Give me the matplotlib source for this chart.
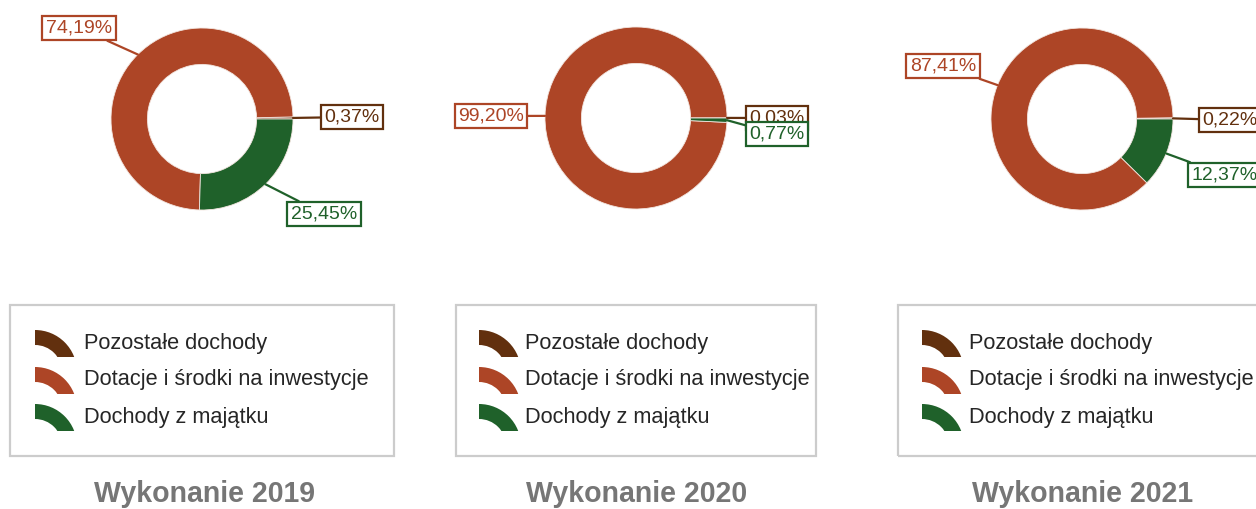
import matplotlib
matplotlib.use("Agg")
import matplotlib.pyplot as plt
from matplotlib.patches import Rectangle, Wedge
import numpy as np

# ---------------- data ----------------
categories = ['Pozostałe dochody', 'Dotacje i środki na inwestycje', 'Dochody z majątku']
years = ['2019', '2020', '2021']
values_2019 = [0.37, 74.19, 25.45]
values_2020 = [0.03, 99.20, 0.77]
values_2021 = [0.22, 87.41, 12.37]
titles = ['Wykonanie 2019', 'Wykonanie 2020', 'Wykonanie 2021']

colors = ['#62300E', '#AD4526', '#1F612A']

W, H = 1256, 509
fig = plt.figure(figsize=(W / 100, H / 100), dpi=100)
ax = fig.add_axes([0, 0, 1, 1])


def Y(y):
    return H - y


# layout (pixel positions, top-left origin)
centers = [(202, 119), (636, 118), (1082, 119)]
radius = 91
label_boxes = [
    [(352, 117), (79, 28), (324, 214)],
    [(777, 118), (491, 116), (777, 134)],
    [(1230, 120), (943, 66), (1225, 175)],
]
legend_boxes = [(10, 305, 384, 151), (456, 305, 360, 151), (898, 305, 380, 151)]
legend_icon_x = [35, 479, 922]
legend_text_x = [84, 525, 969]
legend_text_w = 287
title_x = [204, 637, 1083]
LEG_FONT = 'Liberation Sans'

renderer = fig.canvas.get_renderer()

all_vals = [values_2019, values_2020, values_2021]
for i, vals in enumerate(all_vals):
    cx, cy = centers[i]
    wedges, _ = ax.pie(vals, colors=colors, startangle=0, counterclock=True,
                       radius=radius, center=(cx, Y(cy)),
                       wedgeprops=dict(width=radius * 0.40, edgecolor='#F3E6E0', linewidth=0.6))
    for j in range(3):
        w = wedges[j]
        mid = np.deg2rad((w.theta1 + w.theta2) / 2.0)
        px = cx + radius * np.cos(mid)
        py = Y(cy) + radius * np.sin(mid)
        bx, by = label_boxes[i][j]
        txt = f"{vals[j]:.2f}%".replace('.', ',')
        ax.annotate(txt, xy=(px, py), xytext=(bx, Y(by)), textcoords='data',
                    ha='center', va='center', fontsize=14, color=colors[j],
                    family='Liberation Sans', zorder=5 + j,
                    bbox=dict(boxstyle='square,pad=0.18', fc='white', ec=colors[j], lw=1.6),
                    arrowprops=dict(arrowstyle='-', color=colors[j], lw=1.6,
                                    shrinkA=0, shrinkB=0))

# legends
probe = ax.text(0, 0, categories[1], fontsize=15, family=LEG_FONT)
base_w = probe.get_window_extent(renderer).width
probe.remove()
fs = 15 * legend_text_w / base_w

for i in range(3):
    lx, ly, lw_, lh = legend_boxes[i]
    ax.add_patch(Rectangle((lx, Y(ly + lh)), lw_, lh, fill=False, ec='#CCCCCC', lw=1.6, zorder=2))
    ix = legend_icon_x[i]
    for k, cat in enumerate(categories):
        top = 329 + 37 * k
        wd = Wedge((ix, Y(top + 43)), 42, 0, 90, width=15,
                   fc=colors[k], ec='none', zorder=3)
        ax.add_patch(wd)
        clip = Rectangle((ix - 1, Y(top + 28)), 50, 30, transform=ax.transData)
        wd.set_clip_path(clip)
        ax.text(legend_text_x[i], Y(top + 14), cat, fontsize=fs, family=LEG_FONT,
                color='#262626', ha='left', va='center', zorder=3)

# titles
tfs = 17
probe = ax.text(0, 0, titles[0], fontsize=tfs, family='Liberation Sans', weight='bold')
wpx = probe.get_window_extent(renderer).width
probe.remove()
tfs = tfs * 222.0 / wpx
for i in range(3):
    ax.text(title_x[i], Y(494), titles[i], fontsize=tfs, family='Liberation Sans',
            weight='bold', color='#767676', ha='center', va='center')

ax.set_xlim(0, W)
ax.set_ylim(0, H)
ax.set_aspect('equal')
ax.axis('off')

fig.savefig('out.png', dpi=100, facecolor='white')
